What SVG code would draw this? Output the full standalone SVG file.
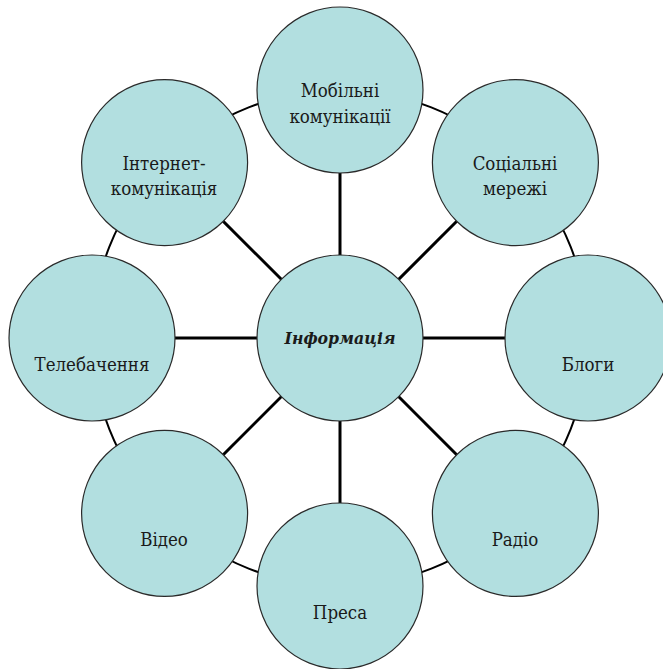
<svg xmlns="http://www.w3.org/2000/svg" width="663" height="669" viewBox="0 0 663 669">
<style>
.node circle{fill:#b2dfe0;stroke:#2a2a2a;stroke-width:1.2}
.node text{font-family:'DejaVu Serif Condensed','DejaVu Serif',serif;font-stretch:condensed;font-size:18.5px;fill:#1a1a1a;text-anchor:middle}
.node text.main{font-size:17.5px;font-weight:bold;font-style:italic}
.spoke{stroke:#000;stroke-width:3}
.ring{fill:none;stroke:#000;stroke-width:2}
</style>
<rect width="663" height="669" fill="#fff"/>
<g id="connectors">
<circle class="ring" cx="340" cy="338" r="248"/>
<line class="spoke" x1="340" y1="338" x2="340" y2="90"/>
<line class="spoke" x1="340" y1="338" x2="515.4" y2="162.6"/>
<line class="spoke" x1="340" y1="338" x2="588" y2="338"/>
<line class="spoke" x1="340" y1="338" x2="515.4" y2="513.4"/>
<line class="spoke" x1="340" y1="338" x2="340" y2="586"/>
<line class="spoke" x1="340" y1="338" x2="164.6" y2="513.4"/>
<line class="spoke" x1="340" y1="338" x2="92" y2="338"/>
<line class="spoke" x1="340" y1="338" x2="164.6" y2="162.6"/>
</g>
<g id="center" class="node"><circle cx="340" cy="338" r="83"/><text class="main" x="340" y="344">Інформація</text></g>
<g id="mobile" class="node"><circle cx="340" cy="90" r="83"/><text x="340" y="97">Мобільні</text><text x="340" y="123">комунікації</text></g>
<g id="social" class="node"><circle cx="515.4" cy="162.6" r="83"/><text x="515" y="170">Соціальні</text><text x="515" y="195">мережі</text></g>
<g id="blogs" class="node"><circle cx="588" cy="338" r="83"/><text x="588" y="371">Блоги</text></g>
<g id="radio" class="node"><circle cx="515.4" cy="513.4" r="83"/><text x="515" y="546">Радіо</text></g>
<g id="press" class="node"><circle cx="340" cy="586" r="83"/><text x="340" y="619">Преса</text></g>
<g id="video" class="node"><circle cx="164.6" cy="513.4" r="83"/><text x="164" y="546">Відео</text></g>
<g id="tv" class="node"><circle cx="92" cy="338" r="83"/><text x="92" y="371">Телебачення</text></g>
<g id="internet" class="node"><circle cx="164.6" cy="162.6" r="83"/><text x="164" y="170">Інтернет-</text><text x="164" y="195">комунікація</text></g>
</svg>
